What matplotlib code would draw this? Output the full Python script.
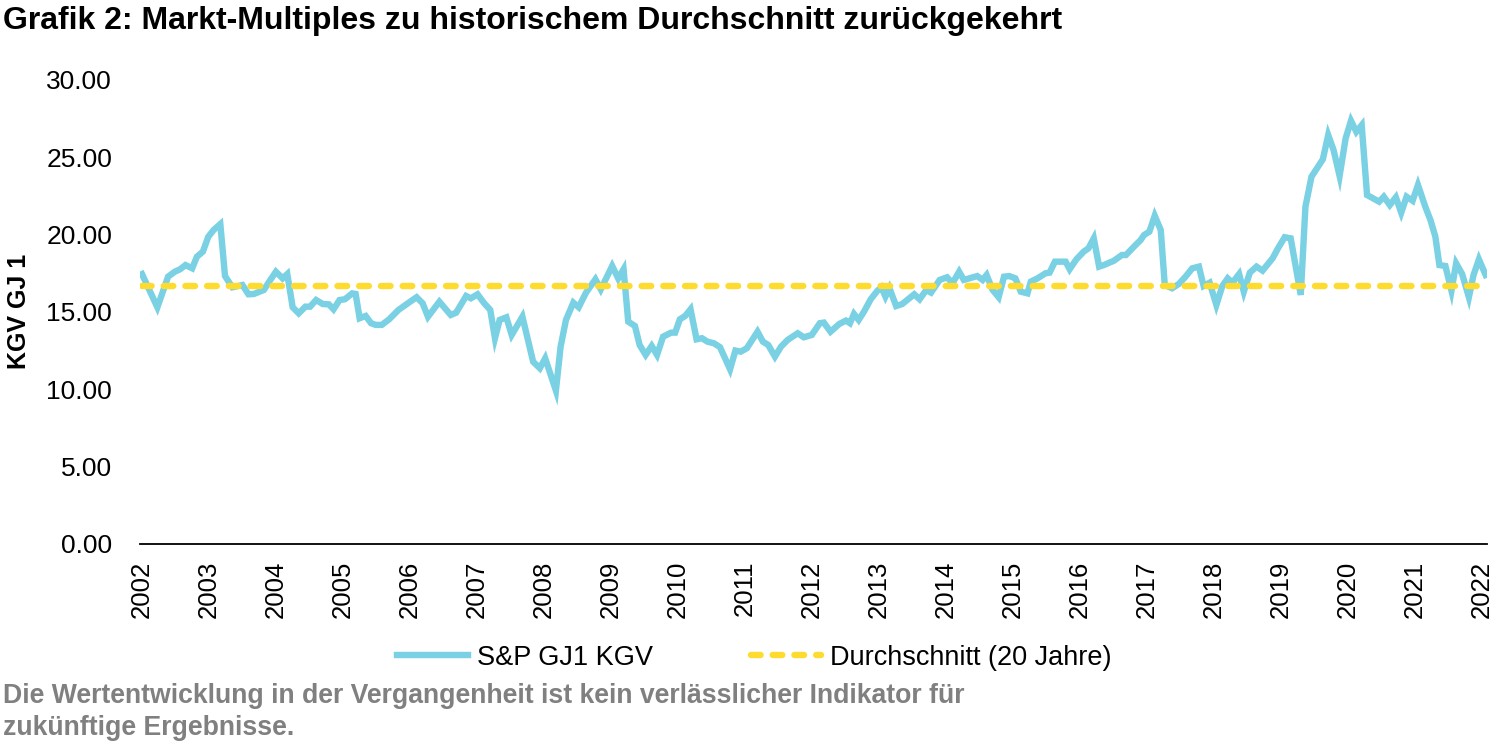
import matplotlib.pyplot as plt

plt.rcParams['font.family'] = ['Liberation Sans', 'DejaVu Sans']

# Data (decimal year, forward P/E)
years = [2002.0, 2002.23, 2002.39, 2002.49, 2002.57, 2002.65, 2002.75, 2002.82, 2002.91, 2002.99,
         2003.07, 2003.17, 2003.24, 2003.35, 2003.5, 2003.59, 2003.67, 2003.82, 2003.9, 2004.0,
         2004.1, 2004.17, 2004.25, 2004.34, 2004.44, 2004.51, 2004.6, 2004.7, 2004.79, 2004.86,
         2004.95, 2005.03, 2005.14, 2005.19, 2005.25, 2005.34, 2005.42, 2005.49, 2005.58, 2005.69,
         2005.83, 2005.97, 2006.1, 2006.19, 2006.27, 2006.44, 2006.61, 2006.69, 2006.84, 2006.91,
         2007.01, 2007.11, 2007.2, 2007.27, 2007.34, 2007.44, 2007.52, 2007.68, 2007.84, 2007.94,
         2008.02, 2008.18, 2008.25, 2008.33, 2008.44, 2008.52, 2008.63, 2008.77, 2008.85, 2009.02,
         2009.11, 2009.19, 2009.26, 2009.36, 2009.43, 2009.52, 2009.61, 2009.69, 2009.78, 2009.9,
         2009.96, 2010.03, 2010.11, 2010.19, 2010.28, 2010.36, 2010.44, 2010.54, 2010.63, 2010.78,
         2010.86, 2010.94, 2011.03, 2011.19, 2011.27, 2011.35, 2011.45, 2011.54, 2011.64, 2011.79,
         2011.88, 2012.0, 2012.12, 2012.18, 2012.28, 2012.41, 2012.51, 2012.57, 2012.63, 2012.7,
         2012.78, 2012.88, 2012.98, 2013.04, 2013.1, 2013.16, 2013.26, 2013.35, 2013.53, 2013.61,
         2013.71, 2013.78, 2013.91, 2014.02, 2014.1, 2014.2, 2014.27, 2014.47, 2014.55, 2014.61,
         2014.7, 2014.79, 2014.87, 2014.95, 2015.04, 2015.12, 2015.22, 2015.27, 2015.37, 2015.49,
         2015.55, 2015.63, 2015.79, 2015.85, 2015.95, 2016.06, 2016.13, 2016.21, 2016.29, 2016.36,
         2016.51, 2016.63, 2016.69, 2016.81, 2016.91, 2016.96, 2017.04, 2017.12, 2017.21, 2017.27,
         2017.38, 2017.48, 2017.58, 2017.68, 2017.78, 2017.85, 2017.94, 2018.04, 2018.13, 2018.21,
         2018.28, 2018.38, 2018.45, 2018.54, 2018.64, 2018.73, 2018.88, 2018.96, 2019.06, 2019.15,
         2019.3, 2019.37, 2019.46, 2019.63, 2019.71, 2019.79, 2019.88, 2019.97, 2020.05, 2020.13,
         2020.21, 2020.29, 2020.47, 2020.54, 2020.63, 2020.72, 2020.8, 2020.88, 2020.97, 2021.05,
         2021.16, 2021.24, 2021.31, 2021.37, 2021.46, 2021.55, 2021.62, 2021.71, 2021.81, 2021.88,
         2021.96, 2022.06]
pe = [17.45, 15.3, 17.28, 17.6, 17.76, 18.03, 17.82, 18.57, 18.9, 19.86,
      20.3, 20.68, 17.32, 16.59, 16.74, 16.14, 16.16, 16.42, 16.96, 17.6,
      17.17, 17.45, 15.3, 14.91, 15.34, 15.34, 15.77, 15.51, 15.49, 15.17,
      15.77, 15.82, 16.2, 16.16, 14.59, 14.74, 14.27, 14.16, 14.16, 14.52,
      15.13, 15.56, 15.95, 15.56, 14.69, 15.66, 14.8, 14.95, 16.03, 15.88,
      16.14, 15.56, 15.13, 13.3, 14.48, 14.65, 13.51, 14.69, 11.78, 11.36,
      12.0, 9.91, 12.75, 14.48, 15.6, 15.3, 16.25, 17.11, 16.46, 17.97,
      17.17, 17.76, 14.37, 14.09, 12.86, 12.22, 12.8, 12.22, 13.4, 13.66,
      13.66, 14.52, 14.74, 15.17, 13.23, 13.3, 13.08, 12.97, 12.72, 11.29,
      12.5, 12.43, 12.65, 13.72, 13.08, 12.86, 12.11, 12.75, 13.19, 13.62,
      13.36, 13.51, 14.27, 14.31, 13.72, 14.22, 14.44, 14.27, 14.87, 14.48,
      15.02, 15.82, 16.37, 16.59, 15.99, 16.53, 15.38, 15.51, 16.14, 15.82,
      16.42, 16.25, 17.07, 17.24, 16.85, 17.6, 17.07, 17.32, 17.07, 17.39,
      16.42, 15.95, 17.28, 17.32, 17.17, 16.31, 16.2, 16.96, 17.17, 17.5,
      17.54, 18.25, 18.25, 17.76, 18.4, 18.9, 19.11, 19.76, 17.93, 18.03,
      18.31, 18.68, 18.68, 19.22, 19.65, 19.97, 20.19, 21.22, 20.3, 16.74,
      16.53, 16.81, 17.28, 17.82, 17.93, 16.68, 16.89, 15.45, 16.68, 17.17,
      16.89, 17.45, 16.31, 17.54, 17.93, 17.67, 18.47, 19.11, 19.83, 19.76,
      16.1, 21.8, 23.74, 24.87, 26.44, 25.47, 23.79, 26.22, 27.36, 26.65,
      27.08, 22.56, 22.13, 22.45, 21.91, 22.41, 21.42, 22.45, 22.19, 23.21,
      21.8, 20.9, 19.86, 18.03, 17.97, 16.37, 18.14, 17.45, 15.95, 17.39,
      18.4, 17.39]
avg_20y = 16.7
tick_years = list(range(2002, 2023))
y_ticks = [0, 5, 10, 15, 20, 25, 30]

fig = plt.figure(figsize=(15, 7.44), dpi=100)
ax = fig.add_axes([0.0933, 0.269, 0.898, 0.6235])

ax.plot(years, pe, color='#79D1E3', lw=4.6, solid_joinstyle='miter', label='S&P GJ1 KGV')
ax.plot([years[0], years[-1]], [avg_20y, avg_20y], color='#FDDB2F', lw=4.6,
        dashes=(1.5, 1.9), dash_capstyle='round', label='Durchschnitt (20 Jahre)')

ax.set_xlim(2001.97, 2022.08)
ax.set_ylim(0, 30)
ax.set_xticks(tick_years)
ax.set_xticklabels([str(y) for y in tick_years], rotation=90, fontsize=18.5)
ax.set_yticks(y_ticks)
ax.set_yticklabels(['%.2f' % v for v in y_ticks], fontsize=19)
ax.tick_params(length=0, pad=12)
ax.tick_params(axis='y', pad=20)
for s in ['top', 'right', 'left']:
    ax.spines[s].set_visible(False)
ax.spines['bottom'].set_linewidth(1.3)

# y axis title
fig.text(0.013, 0.581, 'KGV GJ 1', fontsize=18, fontweight='bold', rotation=90,
         ha='center', va='center')

leg = fig.legend(loc='center', bbox_to_anchor=(0.503, 0.116), ncol=2, frameon=False,
                 fontsize=19.5, handlelength=2.6, columnspacing=3.6, handletextpad=0.35)

fig.text(0.002, 0.972, 'Grafik 2: Markt-Multiples zu historischem Durchschnitt zurückgekehrt',
         fontsize=23, fontweight='bold', va='center', ha='left')
fig.text(0.002, 0.065, 'Die Wertentwicklung in der Vergangenheit ist kein verlässlicher Indikator für',
         fontsize=19.2, fontweight='bold', color='#808080', va='center', ha='left')
fig.text(0.002, 0.021, 'zukünftige Ergebnisse.',
         fontsize=19.2, fontweight='bold', color='#808080', va='center', ha='left')

fig.savefig('out.png', dpi=100)
